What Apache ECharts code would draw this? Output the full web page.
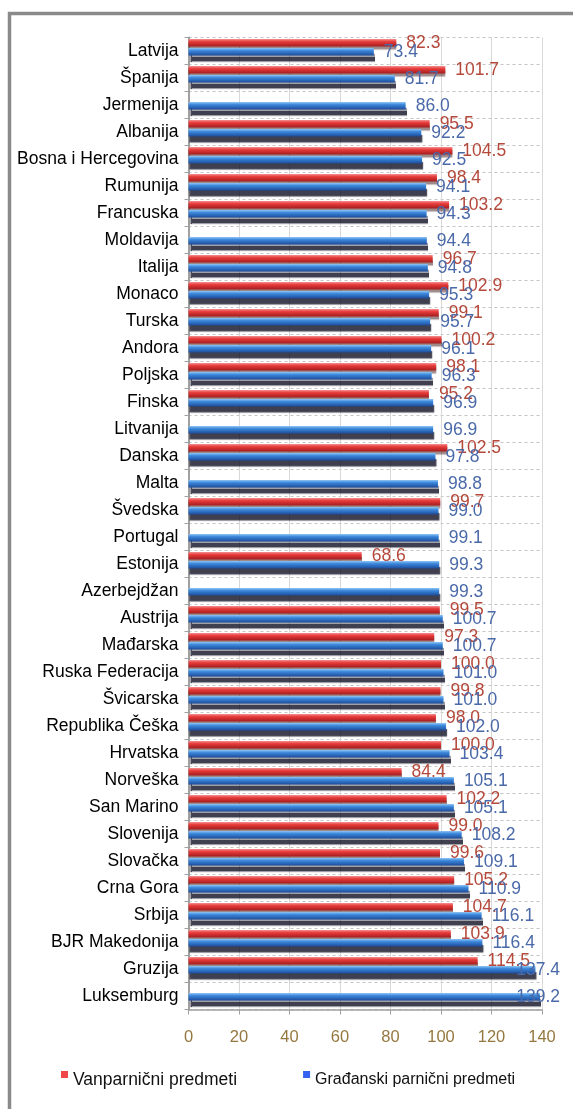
<!DOCTYPE html>
<html>
<head>
<meta charset="utf-8">
<script src="https://cdn.jsdelivr.net/npm/echarts@6/dist/echarts.min.js"></script>
<style>
html,body{margin:0;padding:0;background:#fff;}
#chart{width:573px;height:1109px;}
</style>
</head>
<body>
<div id="chart"></div>
<script>
var categories = ['Latvija','Španija','Jermenija','Albanija','Bosna i Hercegovina','Rumunija','Francuska','Moldavija','Italija','Monaco','Turska','Andora','Poljska','Finska','Litvanija','Danska','Malta','Švedska','Portugal','Estonija','Azerbejdžan','Austrija','Mađarska','Ruska Federacija','Švicarska','Republika Češka','Hrvatska','Norveška','San Marino','Slovenija','Slovačka','Crna Gora','Srbija','BJR Makedonija','Gruzija','Luksemburg'];
var vanparnicni = [82.3,101.7,null,95.5,104.5,98.4,103.2,null,96.7,102.9,99.1,100.2,98.1,95.2,null,102.5,null,99.7,null,68.6,null,99.5,97.3,100.0,99.8,98.0,100.0,84.4,102.2,99.0,99.6,105.2,104.7,103.9,114.5,null];
var gradjanski = [73.4,81.7,86.0,92.2,92.5,94.1,94.3,94.4,94.8,95.3,95.7,96.1,96.3,96.9,96.9,97.8,98.8,99.0,99.1,99.3,99.3,100.7,100.7,101.0,101.0,102.0,103.4,105.1,105.1,108.2,109.1,110.9,116.1,116.4,137.4,139.2];
var xTicks = [0,20,40,60,80,100,120,140];
var seriesNames = ['Vanparnični predmeti','Građanski parnični predmeti'];

var chart = echarts.init(document.getElementById('chart'), null, {renderer:'canvas'});
var fmt = function(p){ return p.value == null ? '' : Number(p.value).toFixed(1); };
var FONT = 'Liberation Sans, Arial, sans-serif';
chart.setOption({
  animation:false,
  backgroundColor:'#ffffff',
  graphic:[{
    type:'rect', silent:true, z:100,
    shape:{x:9.5,y:13.5,width:640,height:1200},
    style:{fill:'none',stroke:'#8a8a8a',lineWidth:3.5}
  }],
  legend:{
    left:56, top:1066, padding:5,
    itemWidth:7, itemHeight:18, itemGap:66,
    icon:'path://M0,0H7V7H0Z M0,18L0.01,18',
    textStyle:{fontFamily:FONT,fontSize:17.5,color:'#111'},
    data:[
      {name:seriesNames[0], itemStyle:{color:'#f04848'}, textStyle:{fontSize:17.5}},
      {name:seriesNames[1], itemStyle:{color:'#3461f0'}, textStyle:{fontSize:16}}
    ]
  },
  grid:{left:188.5, right:31, top:37.5, height:972, containLabel:false},
  xAxis:{
    type:'value', min:xTicks[0], max:xTicks[xTicks.length-1], interval:20,
    axisLine:{show:true,lineStyle:{color:'#a0a0a0',width:1.5}},
    axisTick:{show:true,length:5,lineStyle:{color:'#a0a0a0'}},
    axisLabel:{color:'#94783f',fontSize:16.5,margin:19,fontFamily:FONT},
    splitLine:{show:true,lineStyle:{color:'#d8d8d8',width:1}}
  },
  yAxis:{
    type:'category', inverse:true, data:categories,
    axisLine:{show:true,lineStyle:{color:'#a0a0a0',width:2}},
    axisTick:{show:true,length:4,lineStyle:{color:'#a0a0a0'}},
    axisLabel:{color:'#000',fontSize:17.5,margin:10,fontFamily:FONT},
    splitLine:{show:true,lineStyle:{color:'#c4c4c4',type:[3,3]}}
  },
  labelLayout:function(params){
    var r = params.labelRect;
    if (r && r.x + r.width > 560) { return {dx: 560 - (r.x + r.width)}; }
    return {};
  },
  series:[
    {
      name:seriesNames[0], type:'bar', data:vanparnicni,
      barWidth:7.5, barGap:'20%',
      itemStyle:{color:{type:'linear',x:0,y:0,x2:0,y2:1,colorStops:[
        {offset:0,color:'#f49090'},{offset:0.35,color:'#e83c3c'},{offset:1,color:'#a41c1c'}]},
        shadowColor:'rgba(60,20,20,0.5)',shadowOffsetY:3,shadowBlur:1},
      label:{show:true,position:'right',distance:10,offset:[0,1],formatter:fmt,
        color:'#b4483a',fontSize:17.5,fontFamily:FONT}
    },
    {
      name:seriesNames[1], type:'bar', data:gradjanski,
      barWidth:7.5, barGap:'20%',
      itemStyle:{color:{type:'linear',x:0,y:0,x2:0,y2:1,colorStops:[
        {offset:0,color:'#90c6f4'},{offset:0.35,color:'#3c88dc'},{offset:1,color:'#1c4c9a'}]},
        shadowColor:'rgba(15,15,35,0.8)',shadowOffsetY:6,shadowOffsetX:1,shadowBlur:1},
      label:{show:true,position:'right',distance:10,offset:[0,3],formatter:fmt,
        color:'#4a69a8',fontSize:17.5,fontFamily:FONT}
    },
    {
      name:'_depth', type:'bar', data:[], barWidth:6, barGap:'20%', silent:true
    }
  ]
});
</script>
</body>
</html>
